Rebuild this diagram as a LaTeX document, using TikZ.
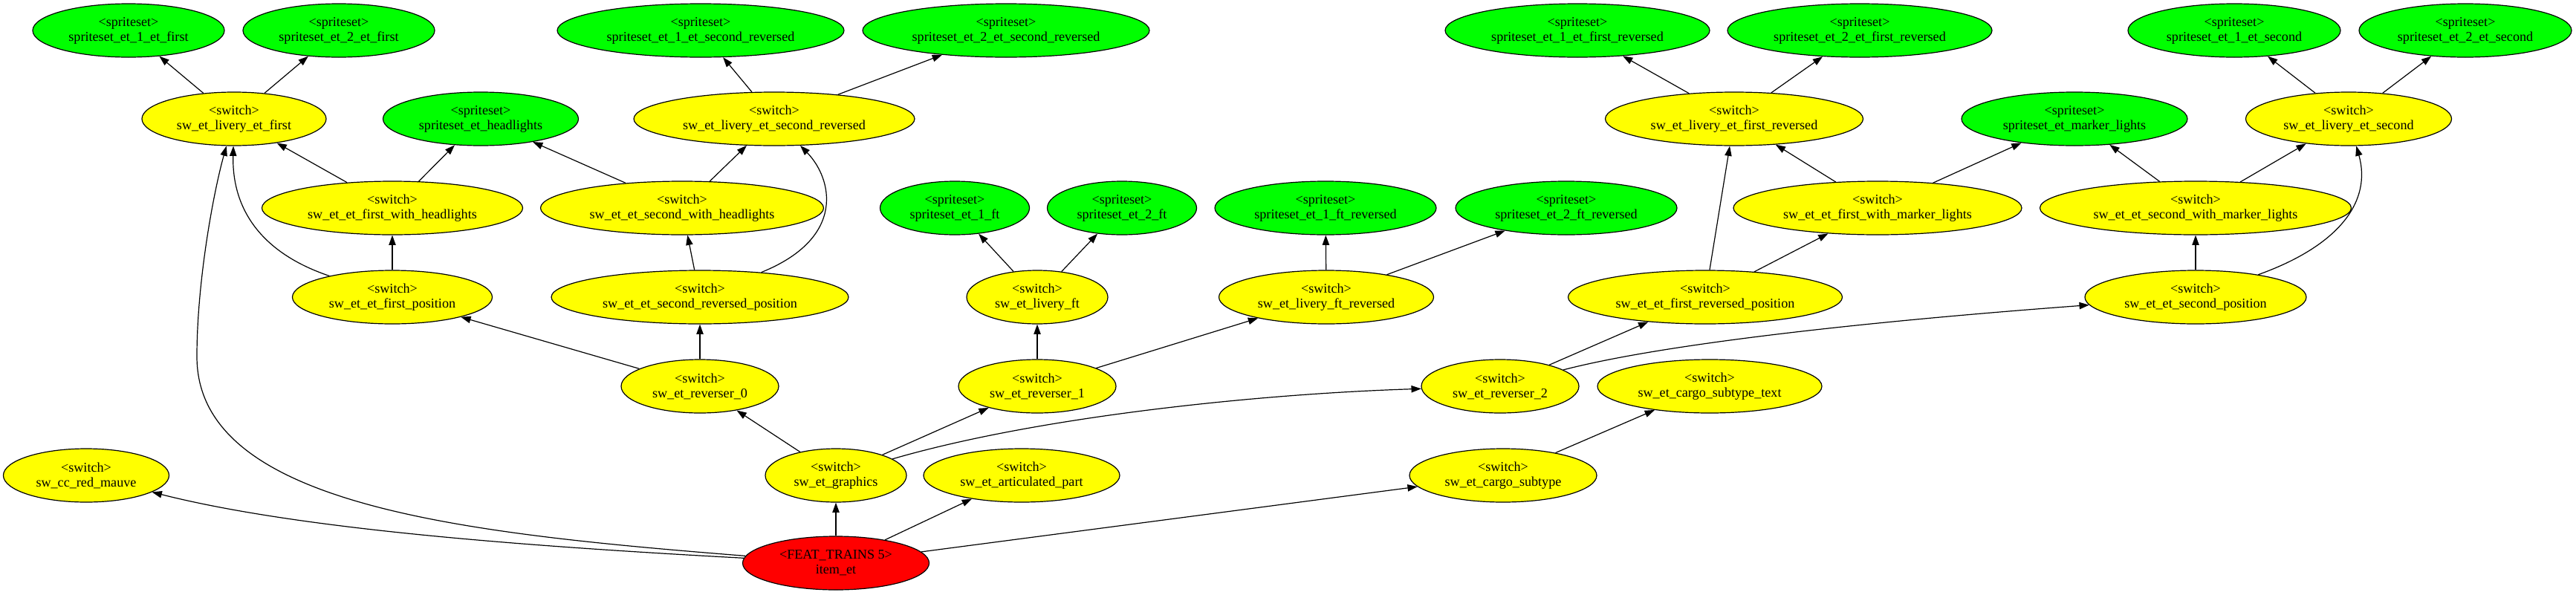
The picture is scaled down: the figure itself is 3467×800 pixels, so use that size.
\documentclass[tikz,border=0pt]{standalone}
\usepackage{fontspec}
\setmainfont{Liberation Serif}
\usetikzlibrary{arrows.meta,shapes.geometric}
\definecolor{gvgreen}{RGB}{0,255,0}
\definecolor{gvyellow}{RGB}{255,255,0}
\definecolor{gvred}{RGB}{255,0,0}
\begin{document}
\begin{tikzpicture}[x=0.75pt,y=-0.75pt,
  gv/.style={ellipse,draw=black,line width=0.9pt,inner sep=0pt,minimum height=54pt,align=center,font=\fontsize{13.6pt}{15pt}\selectfont},
  ss/.style={gv,fill=gvgreen},
  sw/.style={gv,fill=gvyellow},
  rt/.style={gv,fill=gvred},
  wd/.style={minimum width=#1*0.75pt},
  ed/.style={-{Triangle[length=10pt,width=7pt]},line width=0.9pt}]
\useasboundingbox (0,0) rectangle (3467,800);
% row 1
\node[ss,wd=258] (s1first) at (173,41) {<spriteset>\\spriteset\_et\_1\_et\_first};
\node[ss,wd=258] (s2first) at (456,41) {<spriteset>\\spriteset\_et\_2\_et\_first};
\node[ss,wd=386] (s1secrev) at (943,41) {<spriteset>\\spriteset\_et\_1\_et\_second\_reversed};
\node[ss,wd=386] (s2secrev) at (1354,41) {<spriteset>\\spriteset\_et\_2\_et\_second\_reversed};
\node[ss,wd=356] (s1firstrev) at (2123,41) {<spriteset>\\spriteset\_et\_1\_et\_first\_reversed};
\node[ss,wd=356] (s2firstrev) at (2503,41) {<spriteset>\\spriteset\_et\_2\_et\_first\_reversed};
\node[ss,wd=286] (s1sec) at (3007,41) {<spriteset>\\spriteset\_et\_1\_et\_second};
\node[ss,wd=286] (s2sec) at (3318,41) {<spriteset>\\spriteset\_et\_2\_et\_second};
% row 2
\node[sw,wd=248] (livfirst) at (315,160) {<switch>\\sw\_et\_livery\_et\_first};
\node[ss,wd=263] (headl) at (647,160) {<spriteset>\\spriteset\_et\_headlights};
\node[sw,wd=378] (livsecrev) at (1042,160) {<switch>\\sw\_et\_livery\_et\_second\_reversed};
\node[sw,wd=347] (livfirstrev) at (2334,160) {<switch>\\sw\_et\_livery\_et\_first\_reversed};
\node[ss,wd=304] (marker) at (2792,160) {<spriteset>\\spriteset\_et\_marker\_lights};
\node[sw,wd=277] (livsec) at (3161,160) {<switch>\\sw\_et\_livery\_et\_second};
% row 3
\node[sw,wd=351] (firstwh) at (528,280) {<switch>\\sw\_et\_et\_first\_with\_headlights};
\node[sw,wd=381] (secwh) at (918,280) {<switch>\\sw\_et\_et\_second\_with\_headlights};
\node[ss,wd=201] (s1ft) at (1285,280) {<spriteset>\\spriteset\_et\_1\_ft};
\node[ss,wd=201] (s2ft) at (1510,280) {<spriteset>\\spriteset\_et\_2\_ft};
\node[ss,wd=298] (s1ftrev) at (1784,280) {<spriteset>\\spriteset\_et\_1\_ft\_reversed};
\node[ss,wd=298] (s2ftrev) at (2108,280) {<spriteset>\\spriteset\_et\_2\_ft\_reversed};
\node[sw,wd=388] (firstwml) at (2527,280) {<switch>\\sw\_et\_et\_first\_with\_marker\_lights};
\node[sw,wd=419] (secwml) at (2955,280) {<switch>\\sw\_et\_et\_second\_with\_marker\_lights};
% row 4
\node[sw,wd=269] (firstpos) at (528,400) {<switch>\\sw\_et\_et\_first\_position};
\node[sw,wd=400] (secrevpos) at (942,400) {<switch>\\sw\_et\_et\_second\_reversed\_position};
\node[sw,wd=190] (livft) at (1396,400) {<switch>\\sw\_et\_livery\_ft};
\node[sw,wd=289] (livftrev) at (1785,400) {<switch>\\sw\_et\_livery\_ft\_reversed};
\node[sw,wd=369] (firstrevpos) at (2295,400) {<switch>\\sw\_et\_et\_first\_reversed\_position};
\node[sw,wd=298] (secpos) at (2955,400) {<switch>\\sw\_et\_et\_second\_position};
% row 5
\node[sw,wd=212] (rev0) at (942,520) {<switch>\\sw\_et\_reverser\_0};
\node[sw,wd=212] (rev1) at (1396,520) {<switch>\\sw\_et\_reverser\_1};
\node[sw,wd=212] (rev2) at (2019,520) {<switch>\\sw\_et\_reverser\_2};
\node[sw,wd=302] (cargotext) at (2301,520) {<switch>\\sw\_et\_cargo\_subtype\_text};
% row 6
\node[sw,wd=223] (redmauve) at (116,640) {<switch>\\sw\_cc\_red\_mauve};
\node[sw,wd=190] (graphics) at (1125,640) {<switch>\\sw\_et\_graphics};
\node[sw,wd=264] (artic) at (1375,640) {<switch>\\sw\_et\_articulated\_part};
\node[sw,wd=252] (cargo) at (2023,640) {<switch>\\sw\_et\_cargo\_subtype};
% row 7
\node[rt,wd=251] (item) at (1125,758) {<FEAT\_TRAINS 5>\\item\_et};
% edges
\draw[ed] (livfirst) -- (s1first);
\draw[ed] (livfirst) -- (s2first);
\draw[ed] (firstwh) -- (livfirst);
\draw[ed] (firstwh) -- (headl);
\draw[ed] (secwh) -- (headl);
\draw[ed] (secwh) -- (livsecrev);
\draw[ed] (livsecrev) -- (s1secrev);
\draw[ed] (livsecrev) -- (s2secrev);
\draw[ed] (firstpos) -- (firstwh);
\draw[ed] (firstpos) .. controls (350,340) and (312,280) .. (livfirst);
\draw[ed] (secrevpos) -- (secwh);
\draw[ed] (secrevpos) .. controls (1140,320) and (1120,240) .. (livsecrev);
\draw[ed] (rev0) -- (firstpos);
\draw[ed] (rev0) -- (secrevpos);
\draw[ed] (livft) -- (s1ft);
\draw[ed] (livft) -- (s2ft);
\draw[ed] (livftrev) -- (s1ftrev);
\draw[ed] (livftrev) -- (s2ftrev);
\draw[ed] (rev1) -- (livft);
\draw[ed] (rev1) -- (livftrev);
\draw[ed] (livfirstrev) -- (s1firstrev);
\draw[ed] (livfirstrev) -- (s2firstrev);
\draw[ed] (firstwml) -- (livfirstrev);
\draw[ed] (firstwml) -- (marker);
\draw[ed] (secwml) -- (marker);
\draw[ed] (secwml) -- (livsec);
\draw[ed] (livsec) -- (s1sec);
\draw[ed] (livsec) -- (s2sec);
\draw[ed] (firstrevpos) -- (livfirstrev);
\draw[ed] (firstrevpos) -- (firstwml);
\draw[ed] (secpos) -- (secwml);
\draw[ed] (secpos) .. controls (3150,330) and (3192,270) .. (livsec);
\draw[ed] (rev2) -- (firstrevpos);
\draw[ed] (rev2) .. controls (2250,460) and (2550,430) .. (secpos);
\draw[ed] (graphics) -- (rev0);
\draw[ed] (graphics) -- (rev1);
\draw[ed] (graphics) .. controls (1400,560) and (1700,530) .. (rev2);
\draw[ed] (item) -- (graphics);
\draw[ed] (item) -- (artic);
\draw[ed] (item) -- (cargo);
\draw[ed] (item) .. controls (700,735) and (400,712) .. (redmauve);
\draw[ed] (item) .. controls (620,718) and (265,680) .. (265,480) .. controls (265,380) and (287,260) .. (livfirst);
\draw[ed] (cargo) -- (cargotext);
\end{tikzpicture}
\end{document}
